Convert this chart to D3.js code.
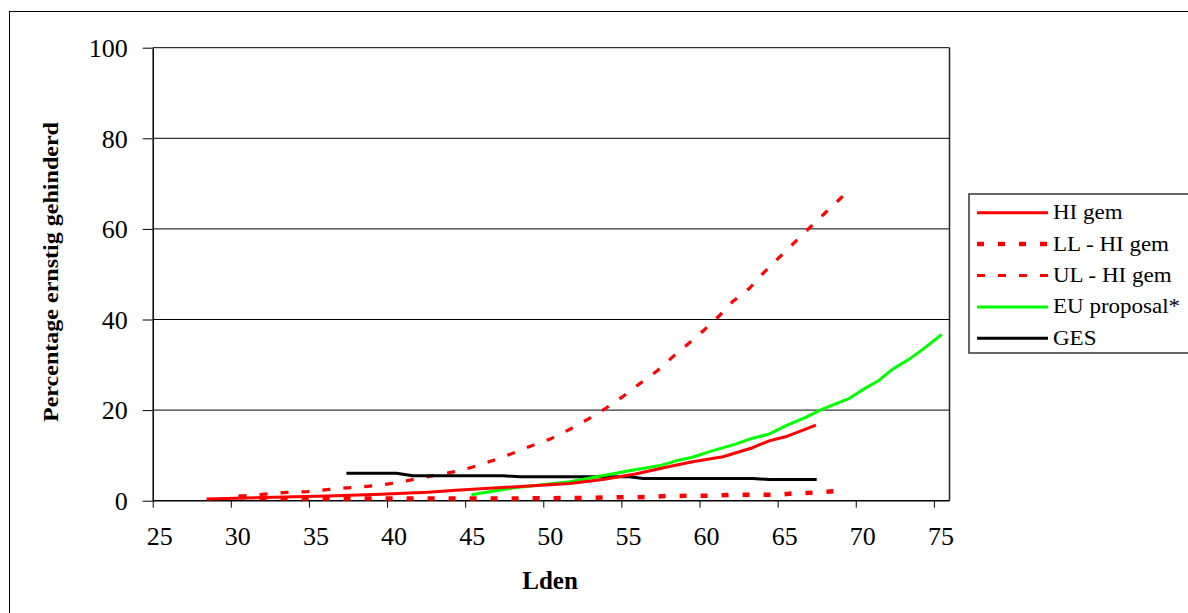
<!DOCTYPE html>
<html><head><meta charset="utf-8">
<script src="https://cdn.jsdelivr.net/npm/d3@7"></script>
<style>
html,body{margin:0;padding:0;background:#fff;}
svg{display:block;}
text{font-family:"Liberation Serif","Times New Roman",serif;fill:#000;}
</style></head>
<body><svg id="c" width="1188" height="613"></svg>
<script>
const xTicks = [25,30,35,40,45,50,55,60,65,70,75];
const yTicks = [0,20,40,60,80,100];
const seriesNames = ["HI gem","LL - HI gem","UL - HI gem","EU proposal*","GES"];

const hiX = [28.45,30.9,34.1,36.2,39.6,42.6,44.4,48.3,51.7,53.8,55.9,57.85,59.55,61.5,63.4,64.45,65.5,67.45];
const hiY = [0.37,0.6,0.85,1.05,1.4,1.85,2.3,3.1,3.8,4.7,5.9,7.4,8.6,9.7,11.7,13.2,14.1,16.7];

const llX = [30.5,32,34,48,52,55,56.5,58,61,62,65,66,67.5,69.1];
const llY = [0.8,0.6,0.5,0.5,0.6,0.75,0.8,1.05,1.1,1.3,1.3,1.6,1.8,2.2];

const ulX = [30.5,32,33.6,34.9,36.3,37.7,39.2,40.7,42.0,43.5,44.66,46.24,47.6,49.0,50.4,51.7,52.84,54.0,55.08,56.25,57.3,58.3,59.3,60.3,61.2,62.1,63.2,64.1,65.1,66.05,67.0,68.0,69.2];
const ulY = [1.0,1.4,1.85,2.0,2.5,2.9,3.3,4.0,4.9,5.9,6.6,8.25,9.87,11.8,13.55,15.76,17.97,20.4,22.96,26.05,28.7,31.8,34.7,37.7,40.6,43.9,46.9,50.3,53.7,56.9,60.1,63.4,67.3];

const euX = [45.4,48.0,51.7,55.5,57.4,58.5,59.55,60.8,62.3,63.4,64.45,65.5,66.8,67.65,68.3,69.6,70.4,71.5,72.3,73.4,74.25,75.5];
const euY = [1.3,2.8,4.2,6.6,7.7,8.8,9.6,11.0,12.5,13.8,14.7,16.5,18.4,19.9,20.8,22.6,24.4,26.6,28.9,31.2,33.3,36.7];

const gesX = [37.4,40.6,41.65,47.4,48.5,55.5,56.4,63.4,64.45,67.5];
const gesY = [6.05,6.05,5.5,5.5,5.3,5.3,4.9,4.9,4.7,4.7];

const svg = d3.select("#c");
const x = d3.scaleLinear().domain([25,76]).range([152.7,949.5]);
const y = d3.scaleLinear().domain([0,100]).range([500.7,47.7]);

// outer frame
svg.append("rect").attr("x",9.5).attr("y",11.5).attr("width",1300).attr("height",800)
  .attr("fill","none").attr("stroke","#000").attr("stroke-width",1);

// gridlines
svg.append("g").selectAll("line").data(yTicks.filter(d=>d>0)).join("line")
  .attr("x1",x(25)).attr("x2",x(76)).attr("y1",d=>y(d)).attr("y2",d=>y(d))
  .attr("stroke","#000").attr("stroke-width",1);

// plot border right
svg.append("line").attr("x1",x(76)).attr("x2",x(76)).attr("y1",y(100)).attr("y2",y(0))
  .attr("stroke","#222").attr("stroke-width",1.5);

// y axis
const yAxis = svg.append("g").attr("transform",`translate(${x(25)},0)`)
  .call(d3.axisLeft(y).tickValues(yTicks).tickSize(10).tickSizeOuter(0).tickPadding(15));
yAxis.selectAll("text").attr("font-size",26).attr("font-family","Liberation Serif").attr("dy","0.34em");
yAxis.select(".domain").attr("stroke-width",1.5);

// x axis
const xAxis = svg.append("g").attr("transform",`translate(0,${y(0)})`)
  .call(d3.axisBottom(x).tickValues(xTicks).tickSize(7).tickSizeOuter(0).tickPadding(19));
xAxis.selectAll("text").attr("font-size",26).attr("font-family","Liberation Serif").attr("dx",6.5);
xAxis.select(".domain").attr("d",`M${x(25)},0H${x(76)}`).attr("stroke-width",1.5);

// axis titles
svg.append("text").attr("x",550).attr("y",589).attr("text-anchor","middle")
  .attr("font-size",25).attr("font-weight","bold").text("Lden");
svg.append("text").attr("transform","translate(58,272) rotate(-90)").attr("text-anchor","middle")
  .attr("font-size",22).attr("font-weight","bold").attr("textLength",300).attr("lengthAdjust","spacingAndGlyphs")
  .text("Percentage ernstig gehinderd");

const line = d3.line().x(d=>x(d[0])).y(d=>y(d[1]));
const zip = (a,b)=>a.map((v,i)=>[v,b[i]]);

const styles = [
  {name:seriesNames[0], data:zip(hiX,hiY), color:"#ff0000", w:3, dash:null},
  {name:seriesNames[1], data:zip(llX,llY), color:"#ff0000", w:4.5, dash:"7,14"},
  {name:seriesNames[2], data:zip(ulX,ulY), color:"#ff0000", w:3.2, dash:"8,13"},
  {name:seriesNames[3], data:zip(euX,euY), color:"#00ff00", w:3, dash:null},
  {name:seriesNames[4], data:zip(gesX,gesY), color:"#000000", w:3, dash:null}
];
const drawOrder = [1,2,4,3,0];
drawOrder.forEach(i=>{
  const s = styles[i];
  svg.append("path").attr("d",line(s.data)).attr("fill","none")
    .attr("stroke",s.color).attr("stroke-width",s.w)
    .attr("stroke-dasharray",s.dash).attr("stroke-linejoin","round");
});

// legend
const lg = svg.append("g");
lg.append("rect").attr("x",969).attr("y",194).attr("width",260).attr("height",159)
  .attr("fill","#fff").attr("stroke","#333").attr("stroke-width",1.5);
const rowY = d3.scaleLinear().domain([0,4]).range([212.7,338.3]);
styles.forEach((s,i)=>{
  lg.append("line").attr("x1",977).attr("x2",1048).attr("y1",rowY(i)).attr("y2",rowY(i))
    .attr("stroke",s.color).attr("stroke-width",s.w).attr("stroke-dasharray",s.dash);
  lg.append("text").attr("transform",`translate(1053,${rowY(i)+6.5}) scale(1.15,1)`)
    .attr("font-size",20).text(s.name);
});
</script></body></html>
